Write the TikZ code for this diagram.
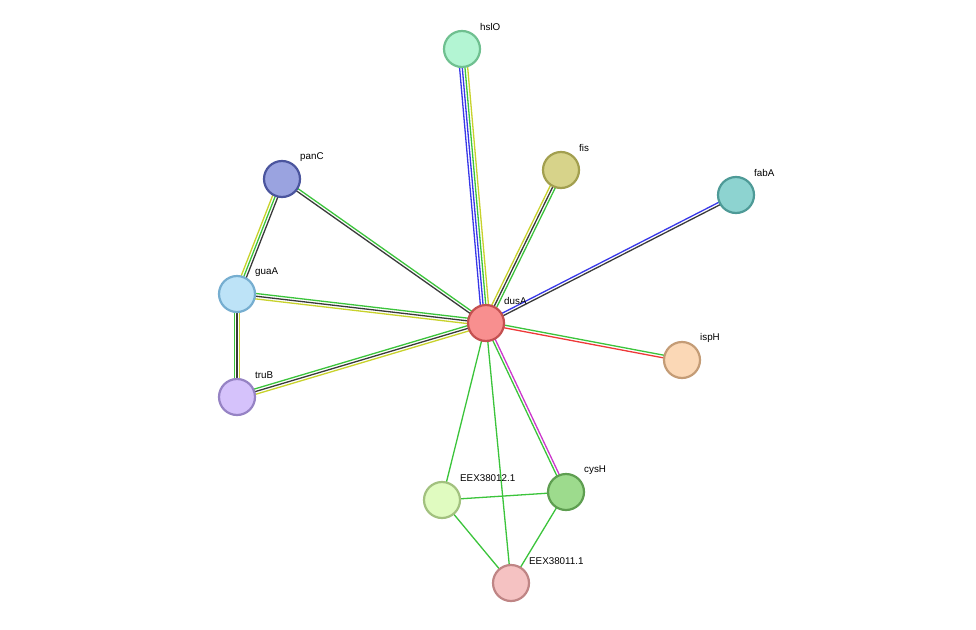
\documentclass[tikz,border=0pt]{standalone}
\usepackage{fontspec}
\setmainfont{Liberation Sans}
\usetikzlibrary{calc}
\definecolor{eg}{HTML}{3BC43B}
\definecolor{ed}{HTML}{3A3A3A}
\definecolor{ey}{HTML}{C8D22B}
\definecolor{eb}{HTML}{3838E8}
\definecolor{em}{HTML}{CC38CC}
\definecolor{er}{HTML}{EE3838}
\newcommand\medge[4]{%
  \foreach \c [count=\i] in {#4} {
    \pgfmathsetmacro\o{(\i-(#3+1)/2)*2.7}
    \draw[\c, line width=1.3pt] ($(#1)!\o pt!90:(#2)$) -- ($(#2)!\o pt!-90:(#1)$);
  }}
\tikzset{prot/.style={circle,minimum size=36pt,inner sep=0pt,line width=2.2pt},
  lab/.style={anchor=west,font=\fontsize{9.8pt}{11pt}\selectfont,inner sep=0pt}}
\begin{document}
\begin{tikzpicture}[x=1pt,y=-1pt]
\path[fill=white] (0,0) rectangle (976,629);
\coordinate (hslO) at (462,49);
\coordinate (fis) at (561,170);
\coordinate (fabA) at (736,195);
\coordinate (panC) at (282,179);
\coordinate (guaA) at (237,294);
\coordinate (dusA) at (486,323);
\coordinate (ispH) at (682,360);
\coordinate (truB) at (237,397);
\coordinate (e12) at (442,500);
\coordinate (cysH) at (566,492);
\coordinate (e11) at (511,583);
\medge{dusA}{hslO}{4}{ey,eg,eb,eb}
\medge{dusA}{fis}{3}{eg,ed,ey}
\medge{dusA}{fabA}{2}{ed,eb}
\medge{dusA}{panC}{2}{eg,ed}
\medge{dusA}{guaA}{3}{eg,ed,ey}
\medge{dusA}{truB}{3}{eg,ed,ey}
\medge{dusA}{ispH}{2}{er,eg}
\medge{dusA}{cysH}{2}{eg,em}
\medge{dusA}{e12}{1}{eg}
\medge{dusA}{e11}{1}{eg}
\medge{panC}{guaA}{3}{ey,eg,ed}
\medge{guaA}{truB}{3}{eg,ed,ey}
\medge{e12}{cysH}{1}{eg}
\medge{e12}{e11}{1}{eg}
\medge{cysH}{e11}{1}{eg}
\foreach \n/\f/\d/\t in {fis/D7D38A/A29F4F/fis, fabA/8DD3D0/4E9A97/fabA, panC/9AA3E0/4B559E/panC, guaA/BDE3F7/76AED0/guaA, dusA/F88F8F/C45050/dusA, ispH/FBD8B6/C49C76/ispH, truB/D5C2FB/9683C4/truB, e12/E0FBC0/A2C17F/EEX38012.1, cysH/9DDB8D/5E9E50/cysH, e11/F5C2C2/BF8585/EEX38011.1, hslO/B3F5D3/6FC090/hslO} {
  \definecolor{f\n}{HTML}{\f}\definecolor{d\n}{HTML}{\d}
  \node[prot,fill=f\n,draw=d\n] (n\n) at (\n) {};
  \node[lab] (l\n) at ($(\n)+(18,-22)$) {\t};
}
\end{tikzpicture}
\end{document}
